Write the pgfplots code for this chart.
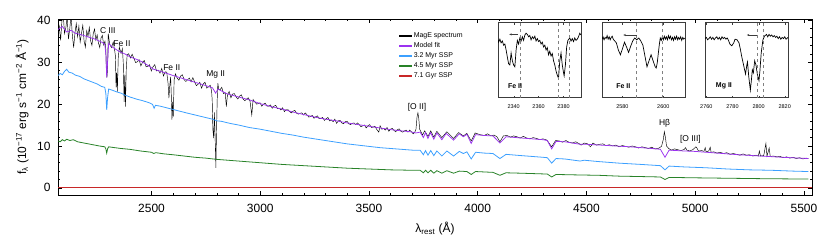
\documentclass[border=0pt]{standalone}
\usepackage{pgfplots}
\pgfplotsset{compat=1.18}
\usepackage{fontspec}
\setmainfont{Liberation Sans}
\usetikzlibrary{arrows.meta}
\definecolor{cpurple}{RGB}{155,50,240}
\definecolor{cblue}{RGB}{60,160,255}
\definecolor{cgreen}{RGB}{40,130,40}
\definecolor{cred}{RGB}{200,40,40}
\definecolor{dgray}{RGB}{60,60,60}
\begin{document}
\begin{tikzpicture}
\path[use as bounding box] (0bp,0bp) rectangle (830bp,244bp);
\begin{axis}[
  at={(58bp,49bp)}, anchor=south west,
  scale only axis, width=754bp, height=176bp,
  xmin=2070, xmax=5537, ymin=-1.7, ymax=40.3,
  xtick={2500,3000,3500,4000,4500,5000,5500},
  ytick={0,10,20,30,40},
  minor x tick num=4, minor y tick num=4,
  tick align=inside, major tick length=4bp, minor tick length=2bp,
  tick style={black, line width=0.5bp},
  axis line style={line width=0.6bp},
  /pgf/number format/assume math mode=true,
  /pgf/number format/1000 sep={},
  tick label style={font=\fontsize{12}{14}\selectfont},
  xticklabel style={yshift=-6bp},
  yticklabel style={xshift=-4bp},
  xlabel={λ\textsubscript{rest} (Å)},
  ylabel={f\textsubscript{λ} (10\textsuperscript{−17} erg s\textsuperscript{−1} cm\textsuperscript{−2} Å\textsuperscript{−1})},
  label style={font=\fontsize{12}{14}\selectfont},
  xlabel style={at={(axis description cs:0.5,-0.19)}, anchor=center},
  ylabel style={at={(axis description cs:-0.0477,0.5)}, anchor=center},
  legend cell align=left,
  legend style={draw=none, fill=none, at={(0.448,0.945)}, anchor=north west,
    font=\fontsize{7}{8}\selectfont, row sep=-0.5bp},
  legend image code/.code={\fill[#1] (0bp,-0.65bp) rectangle (12bp,0.65bp);},
  clip=true,
]
\addplot[color=black, line width=0.45bp] coordinates {
(2070,36.0)(2076,38.5)(2082,35.2)(2088,39.8)(2094,41.5)(2100,36.8)(2106,38.2)(2112,40.8)(2118,35.5)(2124,37.9)
(2130,41.2)(2136,36.4)(2142,33.5)(2148,37.0)(2154,39.2)(2160,36.1)(2166,38.6)(2172,34.8)(2178,36.9)(2184,38.8)
(2190,35.0)(2196,33.6)(2202,37.5)(2208,36.2)(2214,38.3)(2220,35.1)(2226,34.0)(2232,36.8)(2238,37.9)(2244,35.3)
(2250,36.5)(2256,34.6)(2262,33.5)(2268,35.8)(2274,36.4)(2280,34.1)(2286,35.0)(2290,33.0)
(2292,29.0)(2295,26.3)(2298,28.5)(2301,36.8)(2308,34.2)(2316,33.5)(2324,34.8)(2330,33.0)(2334,31.5)(2337,24.0)
(2340,27.5)(2343,23.0)(2347,31.0)(2352,33.6)(2360,32.1)(2366,33.2)(2370,30.0)(2374,20.5)(2377,27.0)(2380,19.4)
(2384,28.5)(2388,31.8)
(2395,32.0)(2403,31.0)(2411,31.9)(2419,30.9)(2427,29.9)(2435,30.1)(2443,30.6)(2451,29.1)(2459,30.0)(2467,30.4)
(2475,28.9)(2483,29.0)(2491,29.4)(2499,27.9)(2507,28.9)(2515,29.4)(2523,27.9)(2531,28.1)(2539,27.4)(2547,28.5)
(2555,26.7)(2563,27.7)(2570,27.6)(2576,25.0)(2580,21.4)(2584,24.5)(2588,26.5)(2591,22.0)(2594,16.3)(2597,20.5)
(2600,17.0)(2604,25.8)
(2610,27.2)(2618,26.2)(2626,25.7)(2634,26.7)(2642,27.0)(2650,25.8)(2658,25.4)(2666,25.8)(2674,26.2)(2682,25.3)
(2690,26.3)(2698,25.3)(2706,24.4)(2714,24.7)(2722,25.2)(2730,23.8)(2738,24.8)(2746,25.2)(2754,23.8)(2762,24.1)
(2770,24.5)(2776,23.2)(2779,21.0)(2782,14.0)(2786,11.9)(2789,18.0)(2792,13.0)(2796,4.8)(2799,14.0)(2802,21.0)
(2805,25.0)(2809,23.5)
(2815,23.4)(2823,24.0)(2831,22.5)(2839,22.7)(2844,19.4)(2849,22.1)(2857,23.0)(2865,21.5)(2873,22.4)(2881,22.5)
(2889,21.7)(2897,21.2)(2905,21.9)(2913,22.2)(2921,21.2)(2929,20.8)(2937,21.2)(2945,21.5)(2953,20.7)(2961,17.4)
(2967,21.1)(2975,20.5)(2983,20.0)(2991,20.1)(2999,20.3)(3007,19.5)(3015,20.0)(3023,20.2)(3031,19.5)(3039,19.5)
(3047,19.8)(3055,19.0)(3063,19.5)(3071,19.7)(3079,18.9)(3087,19.0)(3095,18.6)(3103,19.1)(3111,18.2)(3119,18.7)
(3127,18.7)(3135,18.2)(3143,17.9)(3151,18.3)(3159,18.5)(3167,17.8)(3175,17.6)(3183,17.8)(3191,17.9)(3199,17.4)
(3207,17.9)(3215,17.4)(3223,16.9)(3231,17.0)(3239,17.3)(3247,16.6)(3255,17.0)(3263,17.2)(3271,16.5)(3279,16.6)
(3287,16.8)(3295,16.1)(3303,16.5)(3311,16.8)(3319,16.0)(3327,16.2)(3335,15.8)(3343,16.4)(3351,15.4)(3359,16.0)
(3367,16.1)(3375,15.5)(3383,15.3)(3391,15.8)(3399,15.9)(3407,15.3)(3415,15.1)(3423,15.4)(3431,15.5)(3439,15.1)
(3447,15.5)(3455,15.1)(3463,14.6)(3471,14.8)(3479,15.0)(3487,14.3)(3495,14.8)(3503,15.1)(3511,14.4)(3519,14.5)
(3527,14.7)(3535,14.0)(3545,13.3)(3551,14.8)(3559,14.0)(3567,14.2)(3575,13.8)(3583,14.4)(3591,13.5)(3599,14.0)
(3607,14.2)(3615,13.7)(3623,13.4)(3631,13.9)(3639,14.1)(3647,13.5)(3655,13.3)(3663,13.6)(3671,13.8)(3679,13.3)
(3687,13.8)(3695,13.4)(3703,12.9)(3710,13.2)
(3716,14.0)(3721,17.0)(3725,17.9)(3729,16.5)(3733,14.0)(3738,13.5)(3746,12.6)(3756,13.6)(3771,12.3)(3784,13.6)
(3798,12.1)(3812,13.5)(3835,12.0)(3858,13.4)(3889,11.8)(3912,13.2)(3934,12.4)(3950,13.0)(3970,11.2)(3988,13.1)
(4010,12.7)(4030,12.5)(4045,12.9)(4060,12.4)(4075,12.6)(4088,12.2)(4102,11.0)(4118,12.4)(4135,12.5)(4150,12.1)
(4165,12.4)(4180,12.2)(4195,11.9)(4210,12.3)(4225,11.9)(4240,11.7)(4255,12.0)(4270,11.8)(4285,11.5)(4300,11.7)
(4318,11.4)(4340,9.8)(4358,11.3)(4375,11.2)(4390,10.9)(4405,11.3)(4420,10.9)(4435,10.7)(4450,11.0)(4465,10.6)
(4475,10.2)(4490,10.7)(4505,10.5)(4518,9.8)(4530,10.7)(4545,10.2)(4560,10.4)(4575,10.5)(4590,10.1)(4605,10.3)
(4620,10.0)(4635,10.2)(4650,9.8)(4665,10.1)(4680,9.9)(4695,9.7)(4710,10.0)(4725,9.8)(4740,9.5)(4755,9.8)
(4770,9.6)(4785,9.4)(4800,9.7)(4815,9.3)(4830,9.4)(4845,9.9)(4853,11.5)(4858,13.4)(4863,12.0)(4868,10.0)
(4878,9.4)(4890,9.0)(4905,9.3)(4920,9.1)(4935,8.9)(4950,9.2)(4955,9.6)(4962,9.0)(4975,8.8)(4988,9.1)
(4995,9.4)(5003,9.8)(5008,9.5)(5015,8.8)(5030,8.9)(5040,8.7)(5046,9.6)(5050,8.6)(5062,8.8)(5069,9.7)
(5073,8.5)(5085,8.6)(5100,8.3)(5115,8.5)(5130,8.2)(5145,8.4)(5160,8.0)(5175,8.2)(5190,8.0)(5205,7.8)
(5220,8.1)(5235,7.8)(5250,7.9)(5265,7.6)(5280,7.8)(5290,7.6)(5295,8.8)(5300,7.6)(5315,7.7)(5325,10.6)
(5330,7.6)(5340,9.5)(5345,7.5)(5360,7.6)(5375,7.4)(5390,7.5)(5405,7.2)(5420,7.4)(5435,7.1)(5450,7.3)
(5465,7.0)(5480,7.2)(5495,6.9)(5510,7.1)(5520,7.0)
};
\addlegendentry{MagE spectrum}
\addplot[color=cpurple, line width=0.75bp] coordinates {
(2070,37.8)(2090,38.5)(2110,37.2)(2130,37.6)(2150,36.9)(2180,36.5)(2210,36.0)(2240,35.5)(2270,34.8)(2285,34.3)
(2290,32.0)(2294,26.4)(2298,30.0)(2303,34.5)(2320,33.6)(2350,32.6)(2380,31.9)(2400,31.3)(2430,30.7)(2460,30.0)
(2490,29.0)(2510,28.3)(2530,28.0)(2560,27.5)(2600,26.8)(2650,26.0)(2700,25.2)(2750,24.4)(2780,23.9)(2795,22.6)
(2805,23.6)(2830,22.9)(2850,22.4)(2900,21.7)(2950,21.0)(3000,20.1)(3050,19.4)(3100,18.8)(3150,18.1)(3200,17.5)
(3250,16.9)(3300,16.4)(3350,16.0)(3400,15.5)(3450,15.1)(3500,14.7)(3550,14.3)(3600,13.9)(3650,13.6)(3690,13.4)
(3715,13.1)(3735,13.3)(3750,12.0)(3760,13.2)(3771,11.8)(3783,13.2)(3798,11.6)(3812,13.1)(3835,11.5)(3855,13.0)
(3889,11.4)(3915,12.9)(3934,12.2)(3950,12.8)(3970,10.6)(3990,12.7)(4030,12.5)(4070,12.4)(4102,10.7)(4130,12.2)
(4200,11.9)(4300,11.5)(4320,11.3)(4340,9.3)(4360,11.1)(4400,11.0)(4471,10.4)(4500,10.4)(4600,10.1)(4700,9.8)
(4800,9.4)(4840,9.2)(4861,7.3)(4880,9.0)(4950,8.8)(5000,8.7)(5100,8.3)(5200,7.9)(5300,7.6)(5400,7.3)(5520,7.0)
};
\addlegendentry{Model fit}
\addplot[color=cblue, line width=0.8bp] coordinates {
(2070,26.8)(2080,27.3)(2090,27.0)(2100,27.8)(2110,28.3)(2120,27.6)(2135,27.4)(2150,26.9)(2170,26.6)(2190,26.0)
(2210,25.6)(2230,25.2)(2250,24.8)(2270,24.2)(2285,24.0)(2290,22.5)(2294,18.6)(2298,21.5)(2303,23.6)(2320,23.3)
(2340,22.9)(2360,22.6)(2380,22.1)(2400,21.7)(2430,21.2)(2460,20.8)(2490,20.3)(2505,19.9)(2512,19.0)(2518,19.7)
(2540,19.5)(2570,19.1)(2600,18.7)(2630,18.3)(2660,17.9)(2700,17.4)(2740,16.9)(2780,16.4)(2800,16.0)(2820,15.9)
(2860,15.4)(2900,15.0)(2950,14.4)(3000,14.0)(3050,13.5)(3100,13.0)(3150,12.6)(3200,12.1)(3250,11.7)(3300,11.3)
(3350,10.9)(3400,10.5)(3450,10.2)(3500,9.9)(3550,9.6)(3600,9.4)(3650,9.2)(3700,9.0)(3735,9.0)(3750,7.9)
(3760,8.9)(3771,7.8)(3784,8.9)(3798,7.7)(3812,8.8)(3835,7.6)(3858,8.8)(3889,7.6)(3915,8.7)(3934,8.2)
(3950,8.6)(3970,6.9)(3990,8.5)(4030,8.3)(4070,8.2)(4102,7.0)(4130,8.0)(4200,7.7)(4300,7.3)(4320,7.2)
(4340,5.9)(4360,7.0)(4400,6.9)(4471,6.4)(4490,6.6)(4550,6.3)(4650,5.9)(4750,5.6)(4840,5.3)(4861,4.3)
(4880,5.2)(4950,5.0)(5050,4.8)(5150,4.5)(5250,4.3)(5350,4.2)(5450,4.0)(5520,3.9)
};
\addlegendentry{3.2 Myr SSP}
\addplot[color=cgreen, line width=0.8bp] coordinates {
(2070,11.2)(2080,11.0)(2090,11.5)(2100,11.2)(2110,11.6)(2125,11.3)(2140,11.5)(2160,11.0)(2180,10.8)(2200,10.6)
(2230,10.3)(2260,10.0)(2285,9.8)(2290,9.3)(2294,8.3)(2298,9.3)(2303,9.8)(2330,9.6)(2360,9.4)(2400,9.2)
(2450,8.8)(2500,8.5)(2510,8.2)(2520,8.4)(2560,8.1)(2600,7.9)(2650,7.6)(2700,7.3)(2750,7.1)(2800,6.8)
(2850,6.6)(2900,6.4)(3000,6.0)(3100,5.6)(3200,5.3)(3300,5.0)(3400,4.7)(3500,4.5)(3600,4.3)(3700,4.2)
(3735,4.2)(3750,3.6)(3760,4.2)(3771,3.6)(3784,4.2)(3798,3.5)(3812,4.1)(3835,3.5)(3858,4.1)(3889,3.5)
(3915,4.0)(3950,3.9)(3970,3.2)(3990,3.9)(4070,3.7)(4102,3.0)(4130,3.6)(4200,3.5)(4320,3.3)(4340,2.6)
(4360,3.2)(4450,3.1)(4556,3.0)(4650,2.8)(4750,2.7)(4840,2.6)(4861,2.0)(4880,2.5)(5000,2.4)(5150,2.3)
(5300,2.2)(5520,2.1)
};
\addlegendentry{4.5 Myr SSP}
\addplot[color=cred, line width=0.8bp] coordinates {(2070,0)(5537,0)};
\addlegendentry{7.1 Gyr SSP}
\node[font=\fontsize{8.5}{10}\selectfont] at (axis cs:2299,37.6) {C III};
\node[font=\fontsize{8.5}{10}\selectfont] at (axis cs:2364,34.5) {Fe II};
\node[font=\fontsize{8.5}{10}\selectfont] at (axis cs:2593,28.8) {Fe II};
\node[font=\fontsize{8.5}{10}\selectfont] at (axis cs:2795,27.1) {Mg II};
\node[font=\fontsize{8.5}{10}\selectfont] at (axis cs:3721,19.3) {[O II]};
\node[font=\fontsize{8.5}{10}\selectfont] at (axis cs:4859,15.5) {Hβ};
\node[font=\fontsize{8.5}{10}\selectfont] at (axis cs:4978,11.7) {[O III]};
\end{axis}

% inset 1
\begin{axis}[
  at={(498bp,146bp)}, anchor=south west,
  scale only axis, width=83bp, height=75bp,
  xmin=2327.5, xmax=2394, ymin=0, ymax=1.25,
  xtick={2340,2360,2380}, ytick=\empty,
  tick align=inside, major tick length=2bp, tick style={dgray},
  axis line style={dgray, line width=1bp},
  /pgf/number format/assume math mode=true, /pgf/number format/1000 sep={},
  tick label style={font=\fontsize{5.5}{6}\selectfont},
  xticklabel style={yshift=-3bp},
]
\addplot[black, line width=0.7bp] coordinates {
(2327.5,0.97)(2328,0.93)(2329,0.98)(2330,0.92)(2331,0.95)(2332,0.88)(2333,0.90)(2334,0.80)(2335,0.68)(2336,0.57)
(2337,0.55)(2338,0.75)(2339,0.62)(2340,0.55)(2341,0.52)(2342,0.80)(2343,0.96)(2344,0.90)(2345,1.00)(2346,0.95)
(2347,1.02)(2348,0.96)(2349,1.05)(2350,1.08)(2351,1.06)(2352,1.02)(2353,1.04)(2354,0.97)(2355,1.02)(2356,0.99)
(2357,1.03)(2358,0.95)(2359,0.99)(2360,0.94)(2361,0.96)(2362,0.90)(2363,0.93)(2364,0.85)(2365,0.88)(2366,0.80)
(2367,0.84)(2368,0.72)(2369,0.78)(2370,0.70)(2371,0.74)(2372,0.62)(2373,0.55)(2374,0.45)(2375,0.38)(2376,0.33)
(2377,0.62)(2378,0.75)(2379,0.55)(2380,0.42)(2380.5,0.37)(2381.5,0.55)(2382.5,0.85)(2383.5,0.96)(2385,1.00)(2386,0.95)
(2387,0.99)(2388,0.94)(2389,1.00)(2390,0.96)(2391,0.98)(2392,1.02)(2393,1.08)(2394,1.05)
};
\draw[gray, dashed, line width=0.6bp] (axis cs:2345,0) -- (axis cs:2345,1.25);
\draw[gray, dashed, line width=0.6bp] (axis cs:2376,0) -- (axis cs:2376,1.25);
\draw[gray, dashed, line width=0.6bp] (axis cs:2384.5,0) -- (axis cs:2384.5,1.25);
\draw[dgray, line width=0.6bp, -{Stealth[length=2.5bp,width=2bp]}] (axis cs:2343.7,1.06) -- (axis cs:2336.5,1.06);
\node[anchor=west, font=\fontsize{7}{8}\selectfont\bfseries] at (rel axis cs:0.08,0.164) {Fe II};
\end{axis}

% inset 2
\begin{axis}[
  at={(602bp,146bp)}, anchor=south west,
  scale only axis, width=83bp, height=75bp,
  xmin=2570, xmax=2610.6, ymin=0, ymax=1.25,
  xtick={2580,2600}, ytick=\empty,
  tick align=inside, major tick length=2bp, tick style={dgray},
  axis line style={dgray, line width=1bp},
  /pgf/number format/assume math mode=true, /pgf/number format/1000 sep={},
  tick label style={font=\fontsize{5.5}{6}\selectfont},
  xticklabel style={yshift=-3bp},
]
\addplot[black, line width=0.7bp] coordinates {
(2570,0.98)(2570.5,1.02)(2571,0.97)(2571.5,1.01)(2572,0.99)(2572.5,1.04)(2573,0.98)(2573.5,1.02)(2574,0.97)(2574.5,1.01)
(2575,1.03)(2575.5,0.98)(2576,0.96)(2577,0.92)(2578,0.80)(2579,0.72)(2580,0.82)(2581,0.93)(2582,0.85)(2583,0.76)
(2584,0.86)(2585,0.95)(2586,1.00)(2587,0.97)(2588,1.00)(2589,0.95)(2590,0.88)(2591,0.70)(2592,0.52)(2593,0.62)
(2594,0.72)(2595,0.62)(2596,0.52)(2596.5,0.50)(2597,0.58)(2598,0.88)(2598.5,1.00)(2599,0.96)(2599.5,1.02)(2600,0.97)
(2600.5,1.03)(2601,0.98)(2601.5,1.02)(2602,0.97)(2602.5,1.04)(2603,0.99)(2603.5,1.03)(2604,0.97)(2604.5,1.01)(2605,0.96)
(2605.5,1.02)(2606,0.98)(2606.5,1.03)(2607,0.97)(2607.5,1.01)(2608,0.98)(2608.5,1.02)(2609,0.96)(2609.5,1.01)(2610,0.98)(2610.6,1.00)
};
\draw[gray, dashed, line width=0.6bp] (axis cs:2587,0) -- (axis cs:2587,1.25);
\draw[gray, dashed, line width=0.6bp] (axis cs:2599.7,0) -- (axis cs:2599.7,1.25);
\draw[dgray, line width=0.6bp, -{Stealth[length=2.5bp,width=2bp]}] (axis cs:2587,1.05) -- (axis cs:2580.4,1.05);
\node[anchor=west, font=\fontsize{7}{8}\selectfont\bfseries] at (rel axis cs:0.13,0.164) {Fe II};
\end{axis}

% inset 3
\begin{axis}[
  at={(705bp,146bp)}, anchor=south west,
  scale only axis, width=83bp, height=75bp,
  xmin=2759, xmax=2822.5, ymin=0, ymax=1.25,
  xtick={2760,2780,2800,2820}, ytick=\empty,
  tick align=inside, major tick length=2bp, tick style={dgray},
  axis line style={dgray, line width=1bp},
  /pgf/number format/assume math mode=true, /pgf/number format/1000 sep={},
  tick label style={font=\fontsize{5.5}{6}\selectfont},
  xticklabel style={yshift=-3bp},
]
\addplot[black, line width=0.7bp] coordinates {
(2759,0.99)(2760,1.01)(2761,0.97)(2762,0.99)(2763,1.02)(2764,0.98)(2765,1.01)(2766,0.97)(2767,1.00)(2768,1.02)
(2769,0.98)(2770,1.01)(2771,0.97)(2772,1.02)(2773,0.99)(2774,1.01)(2775,0.98)(2776,1.00)(2777,0.96)(2778,0.90)
(2779.5,0.87)(2781,0.92)(2782,0.98)(2783.5,0.97)(2785,0.92)(2786,0.82)(2787,0.70)(2788,0.60)(2789,0.50)(2790,0.40)
(2791,0.55)(2791.5,0.60)(2792.5,0.35)(2793.7,0.13)(2794.5,0.30)(2795.2,0.47)(2796,0.42)(2797,0.62)(2798,0.55)(2799,0.40)
(2800.3,0.29)(2801,0.45)(2802,0.75)(2803.3,0.97)(2804.5,1.03)(2806,1.06)(2807,1.02)(2808,1.06)(2809,1.03)(2810,1.05)
(2811,1.02)(2812,1.04)(2813,1.01)(2814,1.03)(2815,0.99)(2816,1.02)(2817,0.98)(2818,1.01)(2819,0.99)(2820,1.02)(2821,0.98)(2822.5,1.01)
};
\draw[gray, dashed, line width=0.6bp] (axis cs:2799.2,0) -- (axis cs:2799.2,1.25);
\draw[gray, dashed, line width=0.6bp] (axis cs:2803.8,0) -- (axis cs:2803.8,1.25);
\draw[dgray, line width=0.6bp, -{Stealth[length=2.5bp,width=2bp]}] (axis cs:2798.5,1.05) -- (axis cs:2791,1.05);
\node[anchor=west, font=\fontsize{7}{8}\selectfont\bfseries] at (rel axis cs:0.09,0.164) {Mg II};
\end{axis}
\end{tikzpicture}
\end{document}
